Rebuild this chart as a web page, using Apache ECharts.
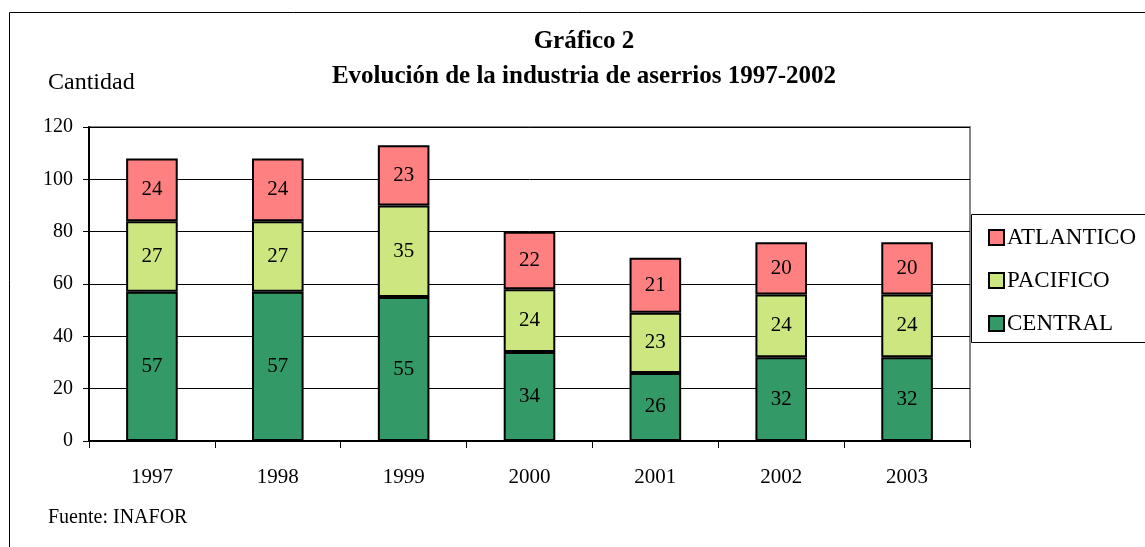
<!DOCTYPE html>
<html>
<head>
	<meta charset="UTF-8">
	<title>Gráfico 2</title>
	<script src="https://cdn.jsdelivr.net/npm/echarts@6/dist/echarts.min.js"></script>
	<style>
		html, body { margin: 0; padding: 0; background: #fff; }
	</style>
</head>
<body>
<div id="main" style="width: 1145px;height:547px;"></div>
<script type="text/javascript">
	// datos
	var years = ['1997', '1998', '1999', '2000', '2001', '2002', '2003'];
	var central = [57, 57, 55, 34, 26, 32, 32];
	var pacifico = [27, 27, 35, 24, 23, 24, 24];
	var atlantico = [24, 24, 23, 22, 21, 20, 20];
	var yTicks = [0, 20, 40, 60, 80, 100, 120];

	var font = 'Liberation Serif, Times New Roman, serif';
	var myChart = echarts.init(document.getElementById('main'));

	function serie(name, data, color) {
		return {
			name: name,
			type: 'bar',
			stack: 'total',
			barWidth: '41%',
			data: data,
			itemStyle: { color: color, borderColor: '#000', borderWidth: 2 },
			label: {
				show: true,
				position: 'inside',
				color: '#000',
				fontFamily: font,
				fontSize: 21
			}
		};
	}

	var option = {
		animation: false,
		backgroundColor: '#fff',
		textStyle: { fontFamily: font },
		title: {
			text: 'Gráfico 2\nEvolución de la industria de aserrios 1997-2002',
			left: 584,
			top: 24,
			padding: 0,
			textAlign: 'center',
			textStyle: { fontFamily: font, fontSize: 25, fontWeight: 'bold', color: '#000', lineHeight: 35 }
		},
		legend: {
			orient: 'vertical',
			left: 988,
			top: 226,
			padding: 0,
			itemGap: 20,
			itemWidth: 15,
			itemHeight: 15,
			icon: 'rect',
			data: ['ATLANTICO', 'PACIFICO', 'CENTRAL'],
			textStyle: { fontFamily: font, fontSize: 23, lineHeight: 23, color: '#000', padding: [0, 0, 0, -2] }
		},
		grid: {
			left: 89,
			right: 175,
			top: 127,
			bottom: 106,
			show: true,
			borderColor: '#888',
			borderWidth: 2
		},
		xAxis: {
			type: 'category',
			data: years,
			axisLine: { lineStyle: { color: '#000', width: 2 } },
			axisTick: { show: true, alignWithLabel: false, length: 7, lineStyle: { color: '#000' } },
			axisLabel: { color: '#000', fontFamily: font, fontSize: 21, margin: 26 }
		},
		yAxis: {
			type: 'value',
			min: yTicks[0],
			max: yTicks[yTicks.length - 1],
			interval: 20,
			axisLine: { show: true, lineStyle: { color: '#000', width: 2 } },
			axisTick: { show: true, length: 6, lineStyle: { color: '#000' } },
			axisLabel: { color: '#000', fontFamily: font, fontSize: 20, margin: 16 },
			splitLine: { lineStyle: { color: '#000', width: 1 } }
		},
		graphic: [
			{
				type: 'rect',
				shape: { x: 9.5, y: 12.5, width: 1200, height: 600 },
				style: { fill: 'none', stroke: '#000', lineWidth: 1 },
				silent: true,
				z: -1
			},
			{
				type: 'rect',
				shape: { x: 971.5, y: 214.5, width: 200, height: 128 },
				style: { fill: '#fff', stroke: '#000', lineWidth: 1 },
				silent: true,
				z: 0
			},
			{
				type: 'text',
				left: 48,
				top: 71,
				style: { text: 'Cantidad', fontFamily: font, fontSize: 24, fill: '#000' }
			},
			{
				type: 'text',
				left: 48,
				top: 508,
				style: { text: 'Fuente: INAFOR', fontFamily: font, fontSize: 20, fill: '#000' }
			}
		],
		series: [
			serie('CENTRAL', central, '#339966'),
			serie('PACIFICO', pacifico, '#CCE680'),
			serie('ATLANTICO', atlantico, '#FF8080')
		]
	};

	myChart.setOption(option);
</script>
</body>
</html>
